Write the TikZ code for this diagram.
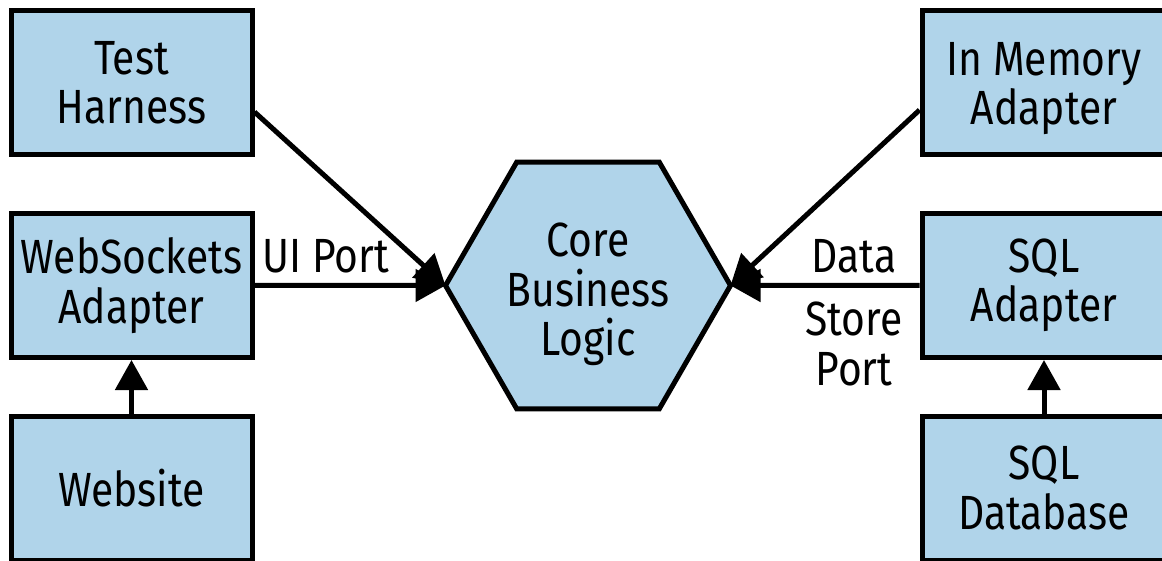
\documentclass[tikz,border=0pt]{standalone}
\usepackage{fontspec}
\setmainfont[FakeStretch=0.85]{Fira Sans}
\usetikzlibrary{shapes.geometric,arrows.meta}
\definecolor{boxblue}{RGB}{176,212,234}
\begin{document}
\begin{tikzpicture}[x=1pt,y=-1pt,
  every node/.style={font=\fontsize{48}{49.5}\selectfont},
  box/.style={draw=black,line width=5pt,fill=boxblue,rectangle,minimum width=241pt,minimum height=144pt,inner sep=0pt,align=center},
  rbox/.style={box,minimum width=244pt},
  hexa/.style={draw=black,line width=5pt,fill=boxblue,regular polygon,regular polygon sides=6,minimum size=285pt,inner sep=0pt,outer sep=0pt,align=center},
  conn/.style={line width=5pt,-{Triangle[length=30pt,width=32pt]}},
  lbl/.style={inner sep=0pt}]
\useasboundingbox (0,0) rectangle (1162,561);
\clip (0,0) rectangle (1162,561);
\node[box] (th) at (131.5,83) {Test\\Harness};
\node[box] (ws) at (131.5,285.5) {WebSockets\\Adapter};
\node[box] (web) at (131.5,488) {Website};
\node[rbox] (mem) at (1044,83) {\rule{0pt}{44pt}In Memory\\Adapter};
\node[rbox] (sql) at (1044,285.5) {SQL\\Adapter};
\node[rbox] (db) at (1044,488) {SQL\\Database};
\node[hexa] (core) at (588,285.5) {\rule{0pt}{52pt}Core\\Business\\Logic};
\draw[conn] ([yshift=-29pt]th.east) -- (core.west);
\draw[conn] (ws.east) -- (core.west);
\draw[conn] (web.north) -- (ws.south);
\draw[conn] ([yshift=-27pt]mem.west) -- (core.east);
\draw[conn] (sql.west) -- (core.east);
\draw[conn] (db.north) -- (sql.south);
\node[lbl,anchor=base west] (uip) at (262,273) {UI Port};
\node[lbl,anchor=base] (data) at (854,273) {Data};
\node[lbl,anchor=base,align=center] (store) at (854,385) {Store\\Port};
\end{tikzpicture}
\end{document}
